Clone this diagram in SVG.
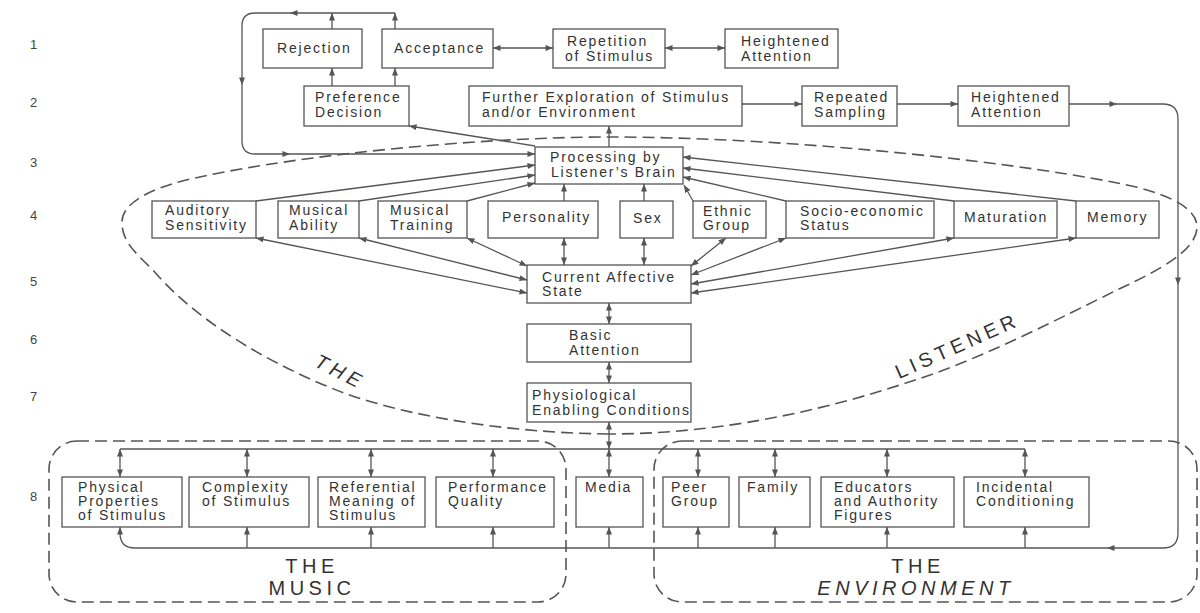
<svg xmlns="http://www.w3.org/2000/svg" width="1200" height="613" viewBox="0 0 1200 613">
<defs>
<style>
.b{fill:#fff;stroke:#555;stroke-width:1.3}
.t{font-family:'Liberation Sans',Arial,sans-serif;font-size:14px;letter-spacing:1.8px;fill:#333}
.n{font-family:'Liberation Sans',Arial,sans-serif;font-size:13px;fill:#444}
.c{fill:none;stroke:#555;stroke-width:1.3}
.e{marker-end:url(#ah)}
.d{marker-start:url(#ah);marker-end:url(#ah)}
.dash{fill:none;stroke:#555;stroke-width:1.6;stroke-dasharray:12 6}
.big{font-family:'Liberation Sans',Arial,sans-serif;font-size:20px;letter-spacing:4.5px;fill:#333}
</style>
<marker id="ah" viewBox="0 0 10 8" refX="10" refY="4" markerWidth="8" markerHeight="6" orient="auto-start-reverse" markerUnits="userSpaceOnUse"><path d="M0,0 L10,4 L0,8 z" fill="#555"/></marker>
</defs>
<rect width="1200" height="613" fill="#fff"/>

<g id="row-numbers">
<text class="n" x="30" y="49">1</text>
<text class="n" x="30" y="107">2</text>
<text class="n" x="30" y="167">3</text>
<text class="n" x="30" y="220">4</text>
<text class="n" x="30" y="286">5</text>
<text class="n" x="30" y="344">6</text>
<text class="n" x="30" y="401">7</text>
<text class="n" x="30" y="501">8</text>
</g>

<g id="regions">
<path class="dash" d="M609,434 C520,433 420,420 344,393 C270,365 195,320 153,270 C132,250 122,240 122,222 C122,200 160,185 200,177 C300,155 480,137 609,137 C800,137 1040,165 1136,187 C1175,197 1197,210 1197,227 C1197,250 1160,270 1117,290 C1060,318 980,360 906,383 C800,418 700,434 609,434 Z"/>
<rect class="dash" x="49" y="441" width="517" height="161" rx="28"/>
<rect class="dash" x="654" y="441" width="543" height="161" rx="28"/>
<text class="big" font-style="italic" transform="translate(337,378) rotate(27)" text-anchor="middle">THE</text>
<text class="big" transform="translate(960,352) rotate(-24)" text-anchor="middle" letter-spacing="3">LISTENER</text>
<text class="big" x="312" y="573" text-anchor="middle">THE</text>
<text class="big" x="312" y="595" text-anchor="middle">MUSIC</text>
<text class="big" x="918" y="573" text-anchor="middle">THE</text>
<text class="big" x="916" y="595" text-anchor="middle" font-style="italic">ENVIRONMENT</text>
</g>

<g id="connectors">
<path class="c e" d="M395,13 L290,13"/>
<path class="c e" d="M290,13 L255,13 Q242,13 242,26 L242,85"/>
<path class="c e" d="M242,85 L242,141 Q242,154 255,154 L290,154"/>
<path class="c e" d="M290,154 L535,154"/>
<path class="c e" d="M332,29 L332,13"/>
<path class="c e" d="M395,29 L395,13"/>
<path class="c e" d="M332,86 L332,68"/>
<path class="c e" d="M395,86 L395,68"/>
<path class="c d" d="M493,48 L553,48"/>
<path class="c d" d="M665,48 L725,48"/>
<path class="c e" d="M742,104 L802,104"/>
<path class="c e" d="M897,104 L958,104"/>
<path class="c e" d="M1069,104 L1117,104"/>
<path class="c e" d="M1117,104 L1163,104 Q1178,104 1178,119 L1178,285"/>
<path class="c e" d="M1178,285 L1178,533 Q1178,548 1163,548 L1107,548"/>
<path class="c e" d="M1107,548 L135,548 Q120,548 120,533 L120,527"/>
<path class="c e" d="M609,147 L609,126"/>
<path class="c e" d="M535,146 L409,126"/>
<path class="c e" d="M256,201 L535,165"/>
<path class="c e" d="M359,201 L535,175"/>
<path class="c e" d="M467,201 L535,183"/>
<path class="c e" d="M564,201 L564,184"/>
<path class="c e" d="M644,201 L644,184"/>
<path class="c e" d="M693,201 L684,185"/>
<path class="c e" d="M786,201 L683,177"/>
<path class="c e" d="M954,201 L683,168"/>
<path class="c e" d="M1076,201 L683,157"/>
<path class="c d" d="M256,238 L527,293"/>
<path class="c d" d="M359,238 L527,280"/>
<path class="c d" d="M467,238 L527,266"/>
<path class="c d" d="M564,238 L564,265"/>
<path class="c d" d="M644,238 L644,265"/>
<path class="c d" d="M726,238 L691,266"/>
<path class="c d" d="M786,238 L691,275"/>
<path class="c d" d="M954,238 L691,284"/>
<path class="c d" d="M1076,238 L691,293"/>
<path class="c d" d="M609,303 L609,324"/>
<path class="c d" d="M609,362 L609,383"/>
<path class="c d" d="M609,422 L609,449"/>
<path class="c" d="M120,449 L1025,449"/>
<path class="c d" d="M120,449 L120,477"/>
<path class="c d" d="M247,449 L247,477"/>
<path class="c d" d="M371,449 L371,477"/>
<path class="c d" d="M493,449 L493,477"/>
<path class="c d" d="M609,449 L609,477"/>
<path class="c d" d="M698,449 L698,477"/>
<path class="c d" d="M775,449 L775,477"/>
<path class="c d" d="M887,449 L887,477"/>
<path class="c d" d="M1025,449 L1025,477"/>
<path class="c e" d="M247,548 L247,527"/>
<path class="c e" d="M371,548 L371,527"/>
<path class="c e" d="M493,548 L493,527"/>
<path class="c e" d="M609,548 L609,527"/>
<path class="c e" d="M698,548 L698,527"/>
<path class="c e" d="M775,548 L775,527"/>
<path class="c e" d="M887,548 L887,527"/>
<path class="c e" d="M1025,548 L1025,527"/>
</g>

<g id="rejection"><rect class="b" x="263" y="29" width="99" height="39"/><text class="t" x="277" y="53">Rejection</text></g>
<g id="acceptance"><rect class="b" x="382" y="29" width="111" height="39"/><text class="t" x="394" y="53">Acceptance</text></g>
<g id="repetition"><rect class="b" x="553" y="29" width="112" height="39"/><text class="t" x="567" y="46">Repetition<tspan x="565" y="61">of Stimulus</tspan></text></g>
<g id="heightened1"><rect class="b" x="725" y="29" width="113" height="39"/><text class="t" x="741" y="46">Heightened<tspan x="741" y="61">Attention</tspan></text></g>

<g id="preference"><rect class="b" x="304" y="86" width="105" height="40"/><text class="t" x="315" y="102">Preference<tspan x="315" y="117">Decision</tspan></text></g>
<g id="further"><rect class="b" x="469" y="86" width="273" height="40"/><text class="t" x="482" y="102">Further Exploration of Stimulus<tspan x="482" y="117">and/or Environment</tspan></text></g>
<g id="repeated"><rect class="b" x="802" y="86" width="95" height="40"/><text class="t" x="814" y="102">Repeated<tspan x="814" y="117">Sampling</tspan></text></g>
<g id="heightened2"><rect class="b" x="958" y="86" width="111" height="40"/><text class="t" x="971" y="102">Heightened<tspan x="971" y="117">Attention</tspan></text></g>

<g id="processing"><rect class="b" x="535" y="147" width="148" height="37"/><text class="t" x="550" y="162">Processing by<tspan x="551" y="177">Listener’s Brain</tspan></text></g>

<g id="auditory"><rect class="b" x="152" y="201" width="104" height="37"/><text class="t" x="165" y="215">Auditory<tspan x="165" y="230">Sensitivity</tspan></text></g>
<g id="musical-ability"><rect class="b" x="278" y="201" width="81" height="37"/><text class="t" x="289" y="215">Musical<tspan x="289" y="230">Ability</tspan></text></g>
<g id="musical-training"><rect class="b" x="378" y="201" width="89" height="37"/><text class="t" x="390" y="215">Musical<tspan x="390" y="230">Training</tspan></text></g>
<g id="personality"><rect class="b" x="488" y="201" width="110" height="37"/><text class="t" x="502" y="222">Personality</text></g>
<g id="sex"><rect class="b" x="620" y="201" width="53" height="37"/><text class="t" x="633" y="223">Sex</text></g>
<g id="ethnic"><rect class="b" x="693" y="201" width="73" height="37"/><text class="t" x="703" y="216">Ethnic<tspan x="703" y="230">Group</tspan></text></g>
<g id="socio"><rect class="b" x="786" y="201" width="148" height="37"/><text class="t" x="800" y="216">Socio-economic<tspan x="800" y="230">Status</tspan></text></g>
<g id="maturation"><rect class="b" x="954" y="201" width="103" height="37"/><text class="t" x="964" y="222">Maturation</text></g>
<g id="memory"><rect class="b" x="1076" y="201" width="83" height="37"/><text class="t" x="1087" y="222">Memory</text></g>

<g id="current"><rect class="b" x="527" y="265" width="164" height="38"/><text class="t" x="542" y="282">Current Affective<tspan x="542" y="296">State</tspan></text></g>
<g id="basic"><rect class="b" x="527" y="324" width="164" height="38"/><text class="t" x="569" y="340">Basic<tspan x="569" y="355">Attention</tspan></text></g>
<g id="physio"><rect class="b" x="527" y="383" width="164" height="39"/><text class="t" x="532" y="400">Physiological<tspan x="532" y="415">Enabling Conditions</tspan></text></g>

<g id="physical"><rect class="b" x="62" y="477" width="120" height="50"/><text class="t" x="78" y="492">Physical<tspan x="78" y="506">Properties</tspan><tspan x="78" y="520">of Stimulus</tspan></text></g>
<g id="complexity"><rect class="b" x="189" y="477" width="120" height="50"/><text class="t" x="202" y="492">Complexity<tspan x="202" y="506">of Stimulus</tspan></text></g>
<g id="referential"><rect class="b" x="318" y="477" width="107" height="50"/><text class="t" x="329" y="492">Referential<tspan x="329" y="506">Meaning of</tspan><tspan x="329" y="520">Stimulus</tspan></text></g>
<g id="performance"><rect class="b" x="436" y="477" width="118" height="50"/><text class="t" x="448" y="492">Performance<tspan x="448" y="506">Quality</tspan></text></g>
<g id="media"><rect class="b" x="576" y="477" width="67" height="50"/><text class="t" x="585" y="492">Media</text></g>
<g id="peer"><rect class="b" x="663" y="477" width="66" height="50"/><text class="t" x="671" y="492">Peer<tspan x="671" y="506">Group</tspan></text></g>
<g id="family"><rect class="b" x="739" y="477" width="71" height="50"/><text class="t" x="747" y="492">Family</text></g>
<g id="educators"><rect class="b" x="821" y="477" width="133" height="50"/><text class="t" x="834" y="492">Educators<tspan x="834" y="506">and Authority</tspan><tspan x="834" y="520">Figures</tspan></text></g>
<g id="incidental"><rect class="b" x="964" y="477" width="125" height="50"/><text class="t" x="976" y="492">Incidental<tspan x="976" y="506">Conditioning</tspan></text></g>
</svg>
